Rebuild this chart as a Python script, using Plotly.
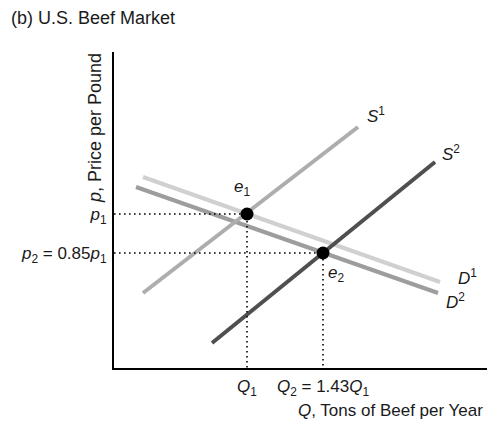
import plotly.graph_objects as go

# curve endpoints in chart units (quantity across, price up)
s1_q = [29, 244]
s1_p = [75, 241]
s2_q = [98, 321]
s2_p = [25, 206]
d1_q = [29, 326]
d1_p = [191, 86]
d2_q = [22, 324]
d2_p = [181, 75]

# equilibria e1, e2
eq_q = [133, 209]
eq_p = [154, 115]
eq_names = ["<i>e</i><sub>1</sub>", "<i>e</i><sub>2</sub>"]

p_labels = ["<i>p</i><sub>1</sub>", "<i>p</i><sub>2</sub> = 0.85<i>p</i><sub>1</sub>"]
q_labels = ["<i>Q</i><sub>1</sub>", "<i>Q</i><sub>2</sub> = 1.43<i>Q</i><sub>1</sub>"]

FONT = "Liberation Sans, Arial, Helvetica, sans-serif"
W, H = 487, 427
L, R, T, B = 114, 0, 52, 59
X_MAX, Y_MAX = 373, 316


def px(x):
    return (x - L) / X_MAX


def py(y):
    return (H - B - y) / Y_MAX


fig = go.Figure()

curves = [
    (d1_q, d1_p, "#d0d0d0"),
    (d2_q, d2_p, "#9d9d9d"),
    (s1_q, s1_p, "#adadad"),
    (s2_q, s2_p, "#4f4f4f"),
]
for q, p, col in curves:
    fig.add_trace(go.Scatter(x=q, y=p, mode="lines",
                             line=dict(color=col, width=4), hoverinfo="skip"))

# dotted guides from the equilibria to both axes
for q, p in zip(eq_q, eq_p):
    fig.add_trace(go.Scatter(x=[0, q, q], y=[p, p, 0], mode="lines",
                             line=dict(color="black", width=1.6, dash="1.6px,3.4px"),
                             hoverinfo="skip"))

fig.add_trace(go.Scatter(x=eq_q, y=eq_p, mode="markers",
                         marker=dict(color="black", size=13), hoverinfo="skip"))

ann = []
txt = dict(family=FONT, size=17, color="#1a1a1a")
big = dict(family=FONT, size=18, color="#1a1a1a")


def lab(text, x, y, xa="left", ya="middle", dx=0, dy=0):
    ann.append(dict(text=text, x=x, y=y, xref="x", yref="y", showarrow=False,
                    xanchor=xa, yanchor=ya, xshift=dx, yshift=dy, font=txt))


lab("<i>S</i><sup>1</sup>", s1_q[1], s1_p[1], dx=7, dy=12)
lab("<i>S</i><sup>2</sup>", s2_q[1], s2_p[1], dx=5, dy=9)
lab("<i>D</i><sup>1</sup>", d1_q[1], d1_p[1], dx=16, dy=5)
lab("<i>D</i><sup>2</sup>", d2_q[1], d2_p[1], dx=6, dy=-8)
lab(eq_names[0], eq_q[0], eq_p[0], xa="center", dx=-5, dy=26)
lab(eq_names[1], eq_q[1], eq_p[1], dx=3, dy=-21)

ann.append(dict(text="(b) U.S. Beef Market", xref="paper", yref="paper",
                x=px(9), y=py(18), xanchor="left", yanchor="middle",
                showarrow=False, font=big))
ann.append(dict(text="<i>p</i>, Price per Pound", xref="paper", yref="paper",
                x=px(95), y=py(128), xanchor="center", yanchor="middle",
                textangle=-90, showarrow=False, font=big))
ann.append(dict(text="<i>Q</i>, Tons of Beef per Year", xref="paper", yref="paper",
                x=px(485), y=py(410), xanchor="right", yanchor="middle",
                showarrow=False, font=txt))

fig.update_layout(
    width=W, height=H,
    margin=dict(l=L, r=R, t=T, b=B),
    paper_bgcolor="white", plot_bgcolor="white",
    showlegend=False,
    font=txt,
    annotations=ann,
    xaxis=dict(range=[0, X_MAX], showline=True, linecolor="black", linewidth=2,
               showgrid=False, zeroline=False, ticks="",
               tickmode="array", tickvals=eq_q, ticktext=q_labels,
               ticklabelstandoff=2, tickfont=txt, fixedrange=True),
    yaxis=dict(range=[0, Y_MAX], showline=True, linecolor="black", linewidth=2,
               showgrid=False, zeroline=False, ticks="",
               tickmode="array", tickvals=eq_p, ticktext=p_labels,
               ticklabelstandoff=2, tickfont=txt, fixedrange=True),
)

# drop the default 8px page margin so the figure fills the window exactly
fig.write_html("out.html", config={"displayModeBar": False},
               post_script="document.body.style.margin='0';")
